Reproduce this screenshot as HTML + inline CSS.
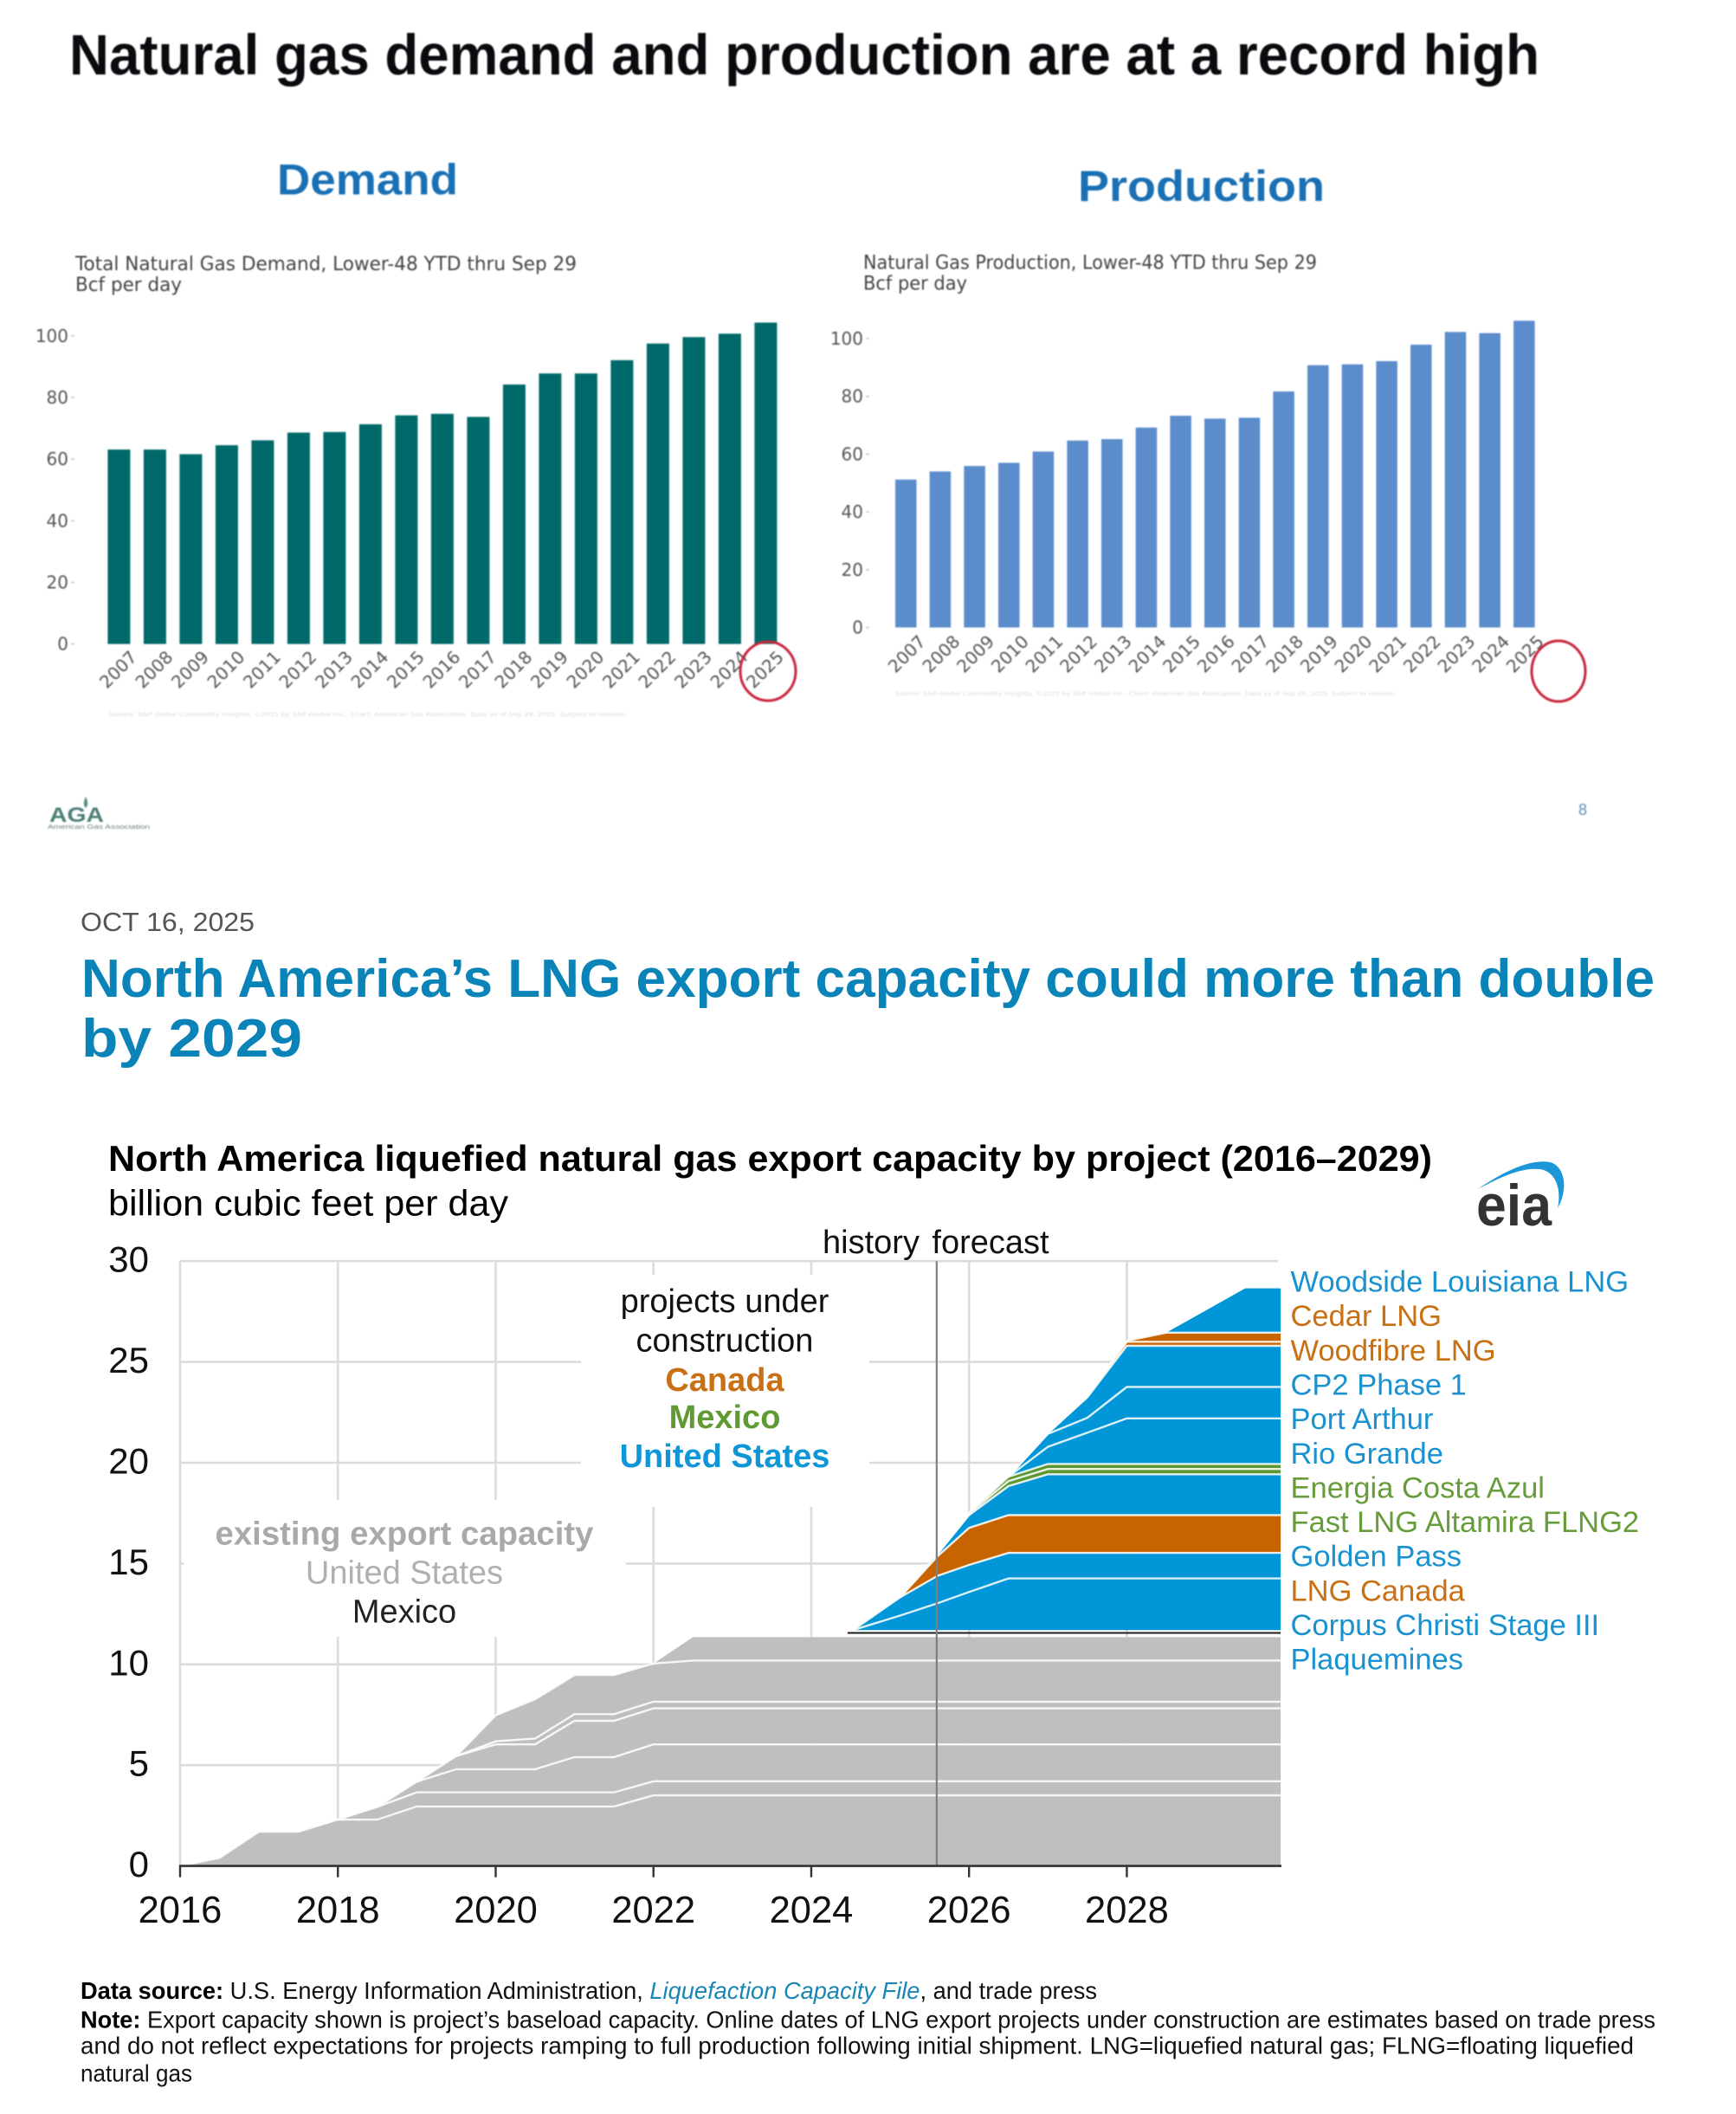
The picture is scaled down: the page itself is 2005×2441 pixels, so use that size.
<!DOCTYPE html>
<html lang="en">
<head>
<meta charset="utf-8">
<title>Natural gas demand, production and LNG export capacity</title>
<style>
html,body{margin:0;padding:0;background:#fff;width:2005px;height:2441px;overflow:hidden}
svg{display:block}
text{font-family:"Liberation Sans",sans-serif}
.dj{font-family:"DejaVu Sans",sans-serif}
</style>
</head>
<body>
<svg id="page" xmlns="http://www.w3.org/2000/svg" width="2005" height="2441" viewBox="0 0 2005 2441">
  <rect x="0" y="0" width="2005" height="2441" fill="#fff"/>

  <g id="slide" style="filter:blur(0.8px)">
    <text x="80" y="86" font-size="66" font-weight="bold" fill="#0a0a0f" textLength="1698" lengthAdjust="spacingAndGlyphs">Natural gas demand and production are at a record high</text>
    <text x="320" y="224.5" font-size="50" font-weight="bold" fill="#1a70b4" textLength="209" lengthAdjust="spacingAndGlyphs">Demand</text>
    <text x="1245" y="232" font-size="50" font-weight="bold" fill="#1a70b4" textLength="285" lengthAdjust="spacingAndGlyphs">Production</text>

    <text class="dj" x="87" y="312" font-size="22" fill="#444" textLength="579" lengthAdjust="spacingAndGlyphs">Total Natural Gas Demand, Lower-48 YTD thru Sep 29</text>
    <text class="dj" x="87" y="336" font-size="22" fill="#444" textLength="123" lengthAdjust="spacingAndGlyphs">Bcf per day</text>
    <text class="dj" x="997" y="310.5" font-size="22" fill="#444" textLength="524" lengthAdjust="spacingAndGlyphs">Natural Gas Production, Lower-48 YTD thru Sep 29</text>
    <text class="dj" x="997" y="334.5" font-size="22" fill="#444" textLength="120" lengthAdjust="spacingAndGlyphs">Bcf per day</text>

    <g id="demand-chart"></g>
    <g id="production-chart"></g>

    <ellipse cx="887" cy="775" rx="32" ry="34" fill="none" stroke="#c8283c" stroke-width="3"/>
    <ellipse cx="1809" cy="778" rx="31" ry="35" fill="none" stroke="#c8283c" stroke-width="3" transform="translate(-9,-3)"/>

    <text class="dj" x="126" y="827" font-size="6" fill="#d8d8d8" textLength="599" lengthAdjust="spacingAndGlyphs">Source: S&amp;P Global Commodity Insights, ©2025 by S&amp;P Global Inc., Chart: American Gas Association. Data as of Sep 29, 2025. Subject to revision.</text>
    <text class="dj" x="1034" y="803" font-size="6" fill="#d8d8d8" textLength="580" lengthAdjust="spacingAndGlyphs">Source: S&amp;P Global Commodity Insights, ©2025 by S&amp;P Global Inc., Chart: American Gas Association. Data as of Sep 29, 2025. Subject to revision.</text>

    <g>
      <path d="M99 920 C96 926 96 930 99 933 C102 930 102 926 99 920 Z" fill="#5e8f8a"/>
      <text x="57" y="949" font-size="24" font-weight="bold" fill="#4d7f78" textLength="63" lengthAdjust="spacingAndGlyphs">AGA</text>
      <text x="55" y="957" font-size="7" fill="#6a7f80" textLength="118" lengthAdjust="spacingAndGlyphs">American Gas Association</text>
    </g>
    <text x="1836" y="947" font-size="18" fill="#5b8fb5" transform="translate(-13,-6)">8</text>
  </g>

  <text x="93" y="1075" font-size="31" fill="#555" textLength="201" lengthAdjust="spacingAndGlyphs">OCT 16, 2025</text>
  <text x="94" y="1151" font-size="62" font-weight="bold" fill="#0a84b8" textLength="1817" lengthAdjust="spacingAndGlyphs">North America’s LNG export capacity could more than double</text>
  <text x="94" y="1220" font-size="62" font-weight="bold" fill="#0a84b8" textLength="255" lengthAdjust="spacingAndGlyphs">by 2029</text>

  <text x="125" y="1352" font-size="42" font-weight="bold" fill="#000" textLength="1529" lengthAdjust="spacingAndGlyphs">North America liquefied natural gas export capacity by project (2016–2029)</text>
  <text x="125" y="1403.5" font-size="42" fill="#000" textLength="462" lengthAdjust="spacingAndGlyphs">billion cubic feet per day</text>

  <g id="eia-logo">
    <path d="M1707 1373 C1740 1350 1770 1338 1790 1342 C1807 1346 1812 1372 1799 1395 C1804 1372 1796 1352 1778 1350 C1758 1348 1735 1358 1707 1373 Z" fill="#1b96d8"/>
    <text x="1705" y="1415" font-size="68" font-weight="bold" fill="#333" textLength="87" lengthAdjust="spacingAndGlyphs">eia</text>
  </g>

  <g id="lng-chart">
    <g id="lng-grid"></g>
    <rect x="671" y="1472" width="333" height="268" fill="#fff"/>
    <rect x="212" y="1732" width="511" height="158" fill="#fff"/>
    <g id="lng-areas"></g>
    <g id="lng-axes"></g>
  </g>

  <g text-anchor="middle" font-size="38">
    <text x="842" y="1515" fill="#111" transform="translate(-5,0)">projects under</text>
    <text x="837" y="1560.5" fill="#111">construction</text>
    <text x="837" y="1606" font-weight="bold" fill="#c96f14">Canada</text>
    <text x="837" y="1649" font-weight="bold" fill="#5f9a33">Mexico</text>
    <text x="837" y="1694" font-weight="bold" fill="#0f96d6">United States</text>
    <text x="467" y="1783.5" font-weight="bold" fill="#a9a9a9" textLength="437" lengthAdjust="spacingAndGlyphs">existing export capacity</text>
    <text x="467" y="1828.5" fill="#b0b0b0">United States</text>
    <text x="467" y="1873.5" fill="#222">Mexico</text>
    <text x="1006" y="1447" fill="#111">history</text>
    <text x="1144" y="1447" fill="#111">forecast</text>
  </g>

  <g id="lng-labels"></g>

  <g font-size="27.5" fill="#111">
    <text x="93" y="2308" textLength="1174" lengthAdjust="spacingAndGlyphs"><tspan font-weight="bold" fill="#000">Data source:</tspan> U.S. Energy Information Administration, <tspan font-style="italic" fill="#1a86b5">Liquefaction Capacity File</tspan>, and trade press</text>
    <text x="93" y="2341.5" textLength="1819" lengthAdjust="spacingAndGlyphs"><tspan font-weight="bold" fill="#000">Note:</tspan> Export capacity shown is project’s baseload capacity. Online dates of LNG export projects under construction are estimates based on trade press</text>
    <text x="93" y="2371.5" textLength="1794" lengthAdjust="spacingAndGlyphs">and do not reflect expectations for projects ramping to full production following initial shipment. LNG=liquefied natural gas; FLNG=floating liquefied</text>
    <text x="93" y="2403.5" textLength="129" lengthAdjust="spacingAndGlyphs">natural gas</text>
  </g>
</svg>

<script>
// ---- Slide bar charts -------------------------------------------------
var barYears = ["2007","2008","2009","2010","2011","2012","2013","2014","2015","2016","2017","2018","2019","2020","2021","2022","2023","2024","2025"];
var demandValues = [63.1,63.1,61.6,64.5,66.1,68.6,68.8,71.3,74.2,74.7,73.7,84.2,87.8,87.8,92.1,97.5,99.6,100.7,104.3];
var productionValues = [51.2,54,55.9,57,60.9,64.7,65.2,69.2,73.3,72.3,72.6,81.7,90.8,91.1,92.2,97.9,102.3,101.9,106.2];
var barTicks = [0,20,40,60,80,100];

// ---- LNG chart values (bcf/d added by each project, stacked in order) --
var yTicks = [0,5,10,15,20,25,30];
var xTicks = [2016,2018,2020,2022,2024,2026,2028];
var historyEnd = 2025.59;

var existingPeriods = [2016,2016.5,2017,2017.5,2018,2018.5,2019,2019.5,2020,2020.5,2021,2021.5,2022,2022.5,2029.95];
var existingLayer1 = [0,0.4,1.7,1.7,2.3,2.3,2.95,2.95,2.95,2.95,2.95,2.95,3.5,3.5,3.5];
var existingLayer2 = [0,0,0,0,0,0.63,0.7,0.7,0.7,0.7,0.7,0.7,0.7,0.7,0.7];
var existingLayer3 = [0,0,0,0,0,0,0.53,1.15,1.15,1.15,1.75,1.75,1.83,1.83,1.83];
var existingLayer4 = [0,0,0,0,0,0,0,0.65,1.23,1.23,1.8,1.8,1.79,1.79,1.79];
var existingLayer5 = [0,0,0,0,0,0,0,0,0.15,0.29,0.33,0.33,0.33,0.33,0.33];
var existingLayer6 = [0,0,0,0,0,0,0,0,1.29,1.95,1.94,1.94,1.89,2.04,2.04];
var existingLayer7 = [0,0,0,0,0,0,0,0,0,0,0,0,0,1.16,1.16];

var mexicoExistingPeriods = [2024.46,2029.95];
var mexicoExistingLevel = [11.56,11.56];

var forecastBase = 11.7;
var forecastPeriods = [2024.53,2025.125,2025.6,2026,2026.5,2027,2027.5,2028,2028.5,2029,2029.5,2029.95];
var plaquemines = [0,0.72,1.33,1.89,2.56,2.56,2.56,2.56,2.56,2.56,2.56,2.56];
var corpusChristi = [0,0.9,1.36,1.34,1.27,1.27,1.27,1.27,1.27,1.27,1.27,1.27];
var lngCanada = [0,0,0.97,1.84,1.87,1.87,1.87,1.87,1.87,1.87,1.87,1.87];
var goldenPass = [0,0,0.12,0.63,1.44,2.03,2.03,2.03,2.03,2.03,2.03,2.03];
var fastLng = [0,0,0,0.08,0.25,0.26,0.26,0.26,0.26,0.26,0.26,0.26];
var energiaCostaAzul = [0,0,0,0.03,0.22,0.25,0.25,0.25,0.25,0.25,0.25,0.25];
var rioGrande = [0,0,0,0,0,0.85,1.55,2.26,2.26,2.26,2.26,2.26];
var portArthur = [0,0,0,0,0,0.64,0.74,1.56,1.56,1.56,1.56,1.56];
var cp2Phase1 = [0,0,0,0,0,0.04,1.02,2.04,2.04,2.04,2.04,2.04];
var woodfibre = [0,0,0,0,0,0,0.04,0.2,0.2,0.2,0.2,0.2];
var cedarLng = [0,0,0,0,0,0,0,0.05,0.45,0.45,0.45,0.45];
var woodside = [0,0,0,0,0,0,0,0,0,1.1,2.2,2.2];

var projectLabels = ["Woodside Louisiana LNG","Cedar LNG","Woodfibre LNG","CP2 Phase 1","Port Arthur","Rio Grande","Energia Costa Azul","Fast LNG Altamira FLNG2","Golden Pass","LNG Canada","Corpus Christi Stage III","Plaquemines"];
var projectLabelCountries = ["us","ca","ca","us","us","us","mx","mx","us","ca","us","us"];

var NS = "http://www.w3.org/2000/svg";
var countryColor = {us:"#0096d7", ca:"#c86400", mx:"#5d9732"};
var labelColor = {us:"#1a92d0", ca:"#c96f14", mx:"#669c3a"};

function mk(parent, tag, attrs, txt) {
  var el = document.createElementNS(NS, tag);
  for (var k in attrs) el.setAttribute(k, attrs[k]);
  if (txt !== undefined) el.textContent = txt;
  parent.appendChild(el);
  return el;
}

// ---- bar chart renderer ------------------------------------------------
function drawBars(host, values, spec) {
  function yOf(v) { return spec.y0 - v * spec.unit; }
  function xOf(i) { return spec.x0 + i * spec.step; }
  barTicks.forEach(function (t) {
    var lab = mk(host, "text", {"class":"dj", x:spec.tickRight, y:yOf(t) + 7, "font-size":20, fill:"#555", "text-anchor":"end"}, String(t));
    
    
    var tk = mk(host, "line", {x1:spec.tickRight + 3, x2:spec.tickRight + 7, y1:yOf(t), y2:yOf(t), stroke:"#bbb", "stroke-width":1.2});
    
    
  });
  values.forEach(function (v, i) {
    var bar = mk(host, "rect", {x:xOf(i), y:yOf(v), width:spec.bar, height:v * spec.unit, fill:spec.color});
    
    
    var cx = xOf(i) + spec.bar / 2 + spec.labelDx, cy = spec.labelY;
    var lab = mk(host, "text", {"class":"dj", x:cx, y:cy + 7, "font-size":20, fill:"#555", "text-anchor":"middle", transform:"rotate(-45 " + cx + " " + cy + ")"}, barYears[i]);
    
    
  });
}
drawBars(document.getElementById("demand-chart"), demandValues, {y0:743.6, unit:3.558, x0:124.4, step:41.5, bar:26, color:"#006a6a", tickRight:79, labelDx:-1, labelY:773});
drawBars(document.getElementById("production-chart"), productionValues, {y0:724.5, unit:3.335, x0:1034, step:39.67, bar:24.5, color:"#5b8ccb", tickRight:997, labelDx:1, labelY:755});

// ---- LNG chart scales --------------------------------------------------
function lngX(year) { return 208 + (year - 2016) * 91.12; }
function lngY(v) { return 2154.6 - v * 23.28; }

var grid = document.getElementById("lng-grid");
yTicks.forEach(function (t) {
  if (t === 0) return;
  var gl = mk(grid, "line", {x1:lngX(2016), x2:1476, y1:lngY(t), y2:lngY(t), stroke:"#dcdcdc", "stroke-width":2.6});
  
  
});
xTicks.forEach(function (t) {
  var gl = mk(grid, "line", {x1:lngX(t), x2:lngX(t), y1:lngY(30), y2:lngY(0), stroke:"#dcdcdc", "stroke-width":2.6});
  
  
});

// ---- stacked areas -----------------------------------------------------
function drawStack(host, periods, base, layers) {
  var lower = periods.map(function () { return base; });
  var lines = [];
  layers.forEach(function (layer) {
    var upper = layer.values.map(function (v, i) { return lower[i] + v; });
    var pts = [];
    upper.forEach(function (u, i) { pts.push(lngX(periods[i]).toFixed(1) + "," + lngY(u).toFixed(1)); });
    for (var i = periods.length - 1; i >= 0; i--) pts.push(lngX(periods[i]).toFixed(1) + "," + lngY(lower[i]).toFixed(1));
    var area = mk(host, "polygon", {points:pts.join(" "), fill:layer.color});
    
    
    lines.push({name:layer.name, upper:upper});
    lower = upper;
  });
  lines.forEach(function (ln, idx) {
    if (idx === lines.length - 1) return;
    var first = 0;
    while (first < ln.upper.length - 1 && layers[idx].values[first] === 0 && layers[idx].values[first + 1] === 0) first++;
    var pts = [];
    for (var i = first; i < ln.upper.length; i++) pts.push(lngX(periods[i]).toFixed(1) + "," + lngY(ln.upper[i]).toFixed(1));
    var sep = mk(host, "polyline", {points:pts.join(" "), fill:"none", stroke:"#fff", "stroke-width":2.4, "stroke-opacity":0.85});
    
    
  });
}
var areasHost = document.getElementById("lng-areas");
drawStack(areasHost, existingPeriods, 0, [
  {name:"existing-1", color:"#bfbfbf", values:existingLayer1},
  {name:"existing-2", color:"#bfbfbf", values:existingLayer2},
  {name:"existing-3", color:"#bfbfbf", values:existingLayer3},
  {name:"existing-4", color:"#bfbfbf", values:existingLayer4},
  {name:"existing-5", color:"#bfbfbf", values:existingLayer5},
  {name:"existing-6", color:"#bfbfbf", values:existingLayer6},
  {name:"existing-7", color:"#bfbfbf", values:existingLayer7}
]);
var mexicoPts = mexicoExistingPeriods.map(function (p, i) { return lngX(p).toFixed(1) + "," + lngY(mexicoExistingLevel[i]).toFixed(1); }).join(" ");
var mexicoLine = mk(areasHost, "polyline", {points:mexicoPts, fill:"none", stroke:"#1c1c1c", "stroke-width":2});


drawStack(areasHost, forecastPeriods, forecastBase, [
  {name:"plaquemines", color:countryColor.us, values:plaquemines},
  {name:"corpus-christi-stage-3", color:countryColor.us, values:corpusChristi},
  {name:"lng-canada", color:countryColor.ca, values:lngCanada},
  {name:"golden-pass", color:countryColor.us, values:goldenPass},
  {name:"fast-lng-altamira", color:countryColor.mx, values:fastLng},
  {name:"energia-costa-azul", color:countryColor.mx, values:energiaCostaAzul},
  {name:"rio-grande", color:countryColor.us, values:rioGrande},
  {name:"port-arthur", color:countryColor.us, values:portArthur},
  {name:"cp2-phase-1", color:countryColor.us, values:cp2Phase1},
  {name:"woodfibre-lng", color:countryColor.ca, values:woodfibre},
  {name:"cedar-lng", color:countryColor.ca, values:cedarLng},
  {name:"woodside-louisiana", color:countryColor.us, values:woodside}
]);

// ---- axes --------------------------------------------------------------
var axes = document.getElementById("lng-axes");
var hist = mk(axes, "line", {x1:lngX(historyEnd), x2:lngX(historyEnd), y1:lngY(30), y2:lngY(0), stroke:"#7f7f7f", "stroke-width":2.2});


var axisLine = mk(axes, "line", {x1:lngX(2016) - 1, x2:1480, y1:lngY(0), y2:lngY(0), stroke:"#333", "stroke-width":2.6});


xTicks.forEach(function (t) {
  var tk = mk(axes, "line", {x1:lngX(t), x2:lngX(t), y1:lngY(0), y2:lngY(0) + 13, stroke:"#333", "stroke-width":2.4});
  
  
  var lab = mk(axes, "text", {x:lngX(t), y:2234 - 14, "font-size":43.5, fill:"#111", "text-anchor":"middle"}, String(t));
  
  
});
yTicks.forEach(function (t) {
  var lab = mk(axes, "text", {x:172, y:lngY(t) + 12.5, "font-size":42, fill:"#111", "text-anchor":"end"}, String(t));
  
  
});

// ---- project labels ----------------------------------------------------
var labelsHost = document.getElementById("lng-labels");
projectLabels.forEach(function (name, i) {
  var lab = mk(labelsHost, "text", {x:1490.5, y:1491.5 + i * 39.65, "font-size":34.5, fill:labelColor[projectLabelCountries[i]]}, name);
  
  
});
</script>
</body>
</html>
